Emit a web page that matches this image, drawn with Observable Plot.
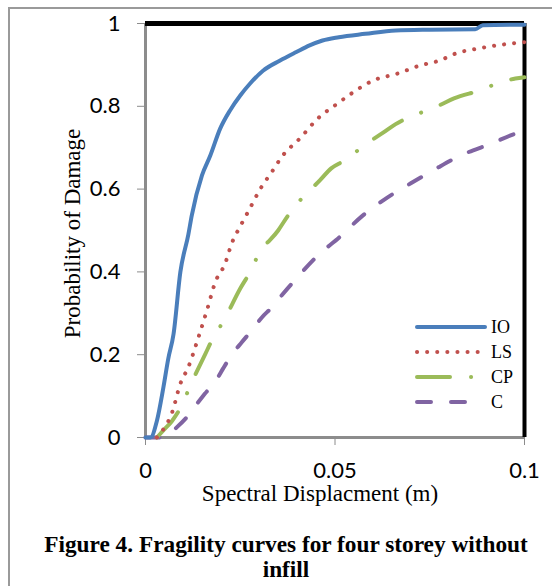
<!DOCTYPE html>
<html>
<head>
<meta charset="utf-8">
<script src="https://cdn.jsdelivr.net/npm/d3@7"></script>
<script src="https://cdn.jsdelivr.net/npm/@observablehq/plot@0.6"></script>
<style>
  html, body { margin: 0; padding: 0; background: #fff; width: 552px; height: 586px; overflow: hidden; }
  #wrap { position: relative; width: 552px; height: 586px; overflow: hidden; }
  #frame { position: absolute; left: 8px; top: 7px; width: 600px; height: 650px; border: 2px solid #9a9a9a; box-sizing: border-box; }
  #chart { position: absolute; left: 0; top: 0; }
  #legend { position: absolute; left: 0; top: 0; pointer-events: none; }
  #caption { position: absolute; left: 0; top: 532px; width: 572px; text-align: center;
             font-family: "Liberation Serif", "Times New Roman", serif; font-weight: bold;
             font-size: 23.3px; line-height: 25px; color: #000; }
  g[aria-label$="axis tick"] { color: #8c8c8c; }
  g[aria-label$="axis tick label"] { color: #000; }
</style>
</head>
<body>
<div id="wrap">
  <div id="frame"></div>
  <div id="chart"></div>
  <div id="legend"></div>
  <div id="caption">Figure 4. Fragility curves for four storey without<br>infill</div>
</div>
<script>
// ---- data ----
const seriesNames = ["IO", "LS", "CP", "C"];

const sdIO = [0, 0.0013, 0.0030, 0.0047, 0.0060, 0.0074, 0.0092, 0.0113, 0.0122, 0.0149, 0.0171, 0.0197, 0.0223, 0.0250, 0.0276, 0.0310, 0.0354, 0.0398, 0.0433, 0.0467, 0.0510, 0.0580, 0.0660, 0.0750, 0.0870, 0.0890, 0.1000];
const pIO  = [0, 0, 0.04, 0.12, 0.19, 0.25, 0.40, 0.49, 0.536, 0.633, 0.681, 0.746, 0.79, 0.826, 0.855, 0.886, 0.91, 0.931, 0.947, 0.959, 0.967, 0.975, 0.983, 0.985, 0.986, 0.996, 0.997];

const sdLS = [0.0030, 0.0045, 0.0070, 0.0092, 0.0113, 0.0139, 0.0163, 0.0184, 0.0210, 0.0228, 0.0250, 0.0270, 0.0306, 0.0333, 0.0362, 0.0407, 0.0454, 0.0507, 0.0542, 0.0600, 0.0665, 0.0726, 0.0774, 0.0820, 0.0880, 0.0950, 0.1000];
const pLS  = [0, 0.017, 0.06, 0.13, 0.17, 0.24, 0.31, 0.375, 0.42, 0.47, 0.51, 0.544, 0.605, 0.641, 0.681, 0.722, 0.77, 0.807, 0.83, 0.862, 0.879, 0.899, 0.91, 0.928, 0.94, 0.95, 0.955];

const sdCP = [0.0030, 0.0047, 0.0070, 0.0097, 0.0118, 0.0157, 0.0178, 0.0205, 0.0250, 0.0276, 0.0297, 0.0350, 0.0376, 0.0407, 0.0460, 0.0490, 0.0525, 0.0585, 0.0625, 0.0660, 0.0730, 0.0774, 0.0814, 0.0887, 0.0930, 0.0976, 0.1000];
const pCP  = [0, 0.017, 0.04, 0.08, 0.125, 0.20, 0.24, 0.28, 0.36, 0.40, 0.44, 0.50, 0.536, 0.572, 0.621, 0.65, 0.669, 0.711, 0.735, 0.757, 0.786, 0.802, 0.819, 0.84, 0.856, 0.867, 0.87];

const sdC  = [0, 0.0050, 0.0083, 0.0105, 0.0136, 0.0157, 0.0189, 0.0205, 0.0230, 0.0254, 0.0284, 0.0307, 0.0333, 0.0359, 0.0398, 0.0455, 0.0512, 0.0573, 0.0634, 0.0700, 0.0766, 0.0831, 0.0910, 0.0980, 0.1000];
const pC   = [0, 0, 0.025, 0.045, 0.082, 0.106, 0.142, 0.167, 0.203, 0.23, 0.263, 0.29, 0.314, 0.343, 0.384, 0.44, 0.484, 0.536, 0.577, 0.614, 0.649, 0.681, 0.709, 0.735, 0.74];

const xTickValues = [0, 0.05, 0.1];
const xTickLabels = ["0", "0.05", "0.1"];
const yTickValues = [0, 0.2, 0.4, 0.6, 0.8, 1];
const yTickLabels = ["0", "0.2", "0.4", "0.6", "0.8", "1"];

const xTitle = "Spectral Displacment (m)";
const yTitle = "Probability of Damage";

// ---- styles ----
const colors = {IO: "#4a7ebb", LS: "#c0504d", CP: "#9bbb59", C: "#8064a2"};
const dashes = {IO: null, LS: "0.1 10", CP: "33 21 0.1 21", C: "14 20"};

const build = (xs, ps, name) => xs.map((x, i) => ({sd: x, p: ps[i], s: name}));
const rows = [
  ...build(sdIO, pIO, "IO"),
  ...build(sdLS, pLS, "LS"),
  ...build(sdCP, pCP, "CP"),
  ...build(sdC, pC, "C")
];

const serif = "'Liberation Serif', 'Times New Roman', serif";

const lineMark = name => Plot.line(rows.filter(d => d.s === name), {
  x: "sd", y: "p", stroke: colors[name], strokeWidth: 4,
  strokeDasharray: dashes[name] || undefined,
  strokeLinecap: "round", strokeLinejoin: "round", curve: "monotone-x"
});

const chart = Plot.plot({
  width: 552,
  height: 515,
  marginLeft: 145,
  marginRight: 28,
  marginTop: 23,
  marginBottom: 78,
  style: {fontFamily: "Lato, 'Liberation Sans', sans-serif", fontSize: "22px", background: "transparent", color: "#000", overflow: "visible"},
  x: {domain: [0, 0.1], ticks: xTickValues, tickFormat: d => xTickLabels[xTickValues.indexOf(d)], tickSize: 8, tickPadding: 17, label: null},
  y: {domain: [0, 1], ticks: yTickValues, tickFormat: d => yTickLabels[yTickValues.findIndex(v => Math.abs(v - d) < 1e-9)], tickSize: 8, tickPadding: 17, label: null},
  marks: [
    Plot.ruleX([0], {stroke: "#8c8c8c", strokeWidth: 3}),
    Plot.ruleY([0], {stroke: "#8c8c8c", strokeWidth: 3}),
    Plot.ruleY([1], {stroke: "#000", strokeWidth: 5}),
    Plot.ruleX([0.1], {stroke: "#000", strokeWidth: 4, y1: 0, y2: 1}),
    lineMark("C"),
    lineMark("CP"),
    lineMark("LS"),
    lineMark("IO"),
    Plot.text([xTitle], {frameAnchor: "bottom", lineAnchor: "middle", textAnchor: "middle", dy: 56, dx: -15, fontFamily: serif, fontSize: 23, fill: "#000"}),
    Plot.text([yTitle], {frameAnchor: "left", lineAnchor: "middle", textAnchor: "middle", rotate: -90, dx: -73, dy: 3, fontFamily: serif, fontSize: 23, fill: "#000"})
  ]
});
document.getElementById("chart").appendChild(chart);

// ---- legend ----
const lg = d3.select("#legend").append("svg").attr("width", 552).attr("height", 586);
seriesNames.forEach((name, i) => {
  const y = 327 + i * 25;
  lg.append("line")
    .attr("x1", 417).attr("x2", 485).attr("y1", y).attr("y2", y)
    .attr("stroke", colors[name]).attr("stroke-width", 4)
    .attr("stroke-linecap", "round")
    .attr("stroke-dasharray", dashes[name]);
  lg.append("text")
    .attr("x", 491).attr("y", y).attr("dy", "0.35em")
    .attr("font-family", serif).attr("font-size", 18).attr("fill", "#000")
    .text(name);
});
</script>
</body>
</html>
